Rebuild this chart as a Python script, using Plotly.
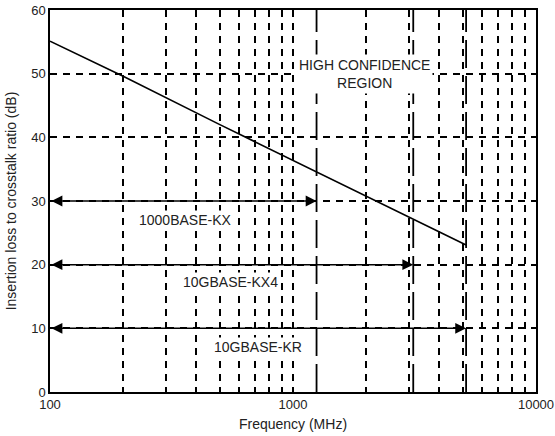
import numpy as np
import plotly.graph_objects as go

# ---- data ----
freq_mhz = [100, 200, 500, 1000, 2000, 3125, 5156.25]
icr_db = [55.1, 49.6, 42.0, 36.4, 30.7, 27.1, 23.1]

phy_names = ["1000BASE-KX", "10GBASE-KX4", "10GBASE-KR"]
phy_fmax = [1250, 3125, 5156.25]
phy_level = [30, 20, 10]
phy_label_x = [360, 552, 720]
phy_label_y = [27.0, 17.2, 7.0]

region_text = "HIGH CONFIDENCE<br>REGION"
region_x = 1960
region_y = 50

x_tickvals = [100, 200, 300, 400, 500, 600, 700, 800, 900,
              1000, 2000, 3000, 4000, 5000, 6000, 7000, 8000, 9000, 10000]
x_ticktext = ["100", "", "", "", "", "", "", "", "",
              "1000", "", "", "", "", "", "", "", "", "10000"]
y_tickvals = [0, 10, 20, 30, 40, 50, 60]

FONT = "Liberation Sans, Arial, sans-serif"
TXT = "#222222"

fig = go.Figure()

# long-dash vertical markers at the max frequencies
for fmax in phy_fmax:
    fig.add_trace(go.Scatter(
        x=[fmax, fmax], y=[0, 60], mode="lines",
        line=dict(color="black", width=1.8, dash="28px,8px"),
        hoverinfo="skip", showlegend=False))

# ICR limit curve
fig.add_trace(go.Scatter(
    x=freq_mhz, y=icr_db, mode="lines",
    line=dict(color="black", width=1.6),
    showlegend=False))

annotations = []
for name, fmax, lvl, lx, ly in zip(phy_names, phy_fmax, phy_level, phy_label_x, phy_label_y):
    annotations.append(dict(
        x=np.log10(fmax), y=lvl, ax=np.log10(100), ay=lvl,
        xref="x", yref="y", axref="x", ayref="y",
        showarrow=True, arrowhead=2, arrowside="end+start",
        arrowsize=1.45, arrowwidth=1.5, arrowcolor="black",
        standoff=0, startstandoff=0, text=""))
    annotations.append(dict(
        x=np.log10(lx), y=ly, xref="x", yref="y", text=name,
        showarrow=False, bgcolor="white", borderpad=1,
        font=dict(family=FONT, size=14, color=TXT)))

annotations.append(dict(
    x=np.log10(region_x), y=region_y, xref="x", yref="y", text=region_text,
    showarrow=False, bgcolor="white", borderpad=2,
    font=dict(family=FONT, size=14, color=TXT)))

fig.update_layout(
    width=555, height=436,
    margin=dict(l=50, r=19, t=10, b=44),
    paper_bgcolor="white", plot_bgcolor="white",
    annotations=annotations,
    font=dict(family=FONT, size=13, color=TXT),
    xaxis=dict(
        type="log", range=[2, 4], automargin=False,
        tickvals=x_tickvals, ticktext=x_ticktext, ticklabeloverflow="allow",
        showgrid=True, gridcolor="black", gridwidth=1.5, griddash="7px,6px",
        showline=True, linecolor="black", linewidth=1.5, mirror=True,
        ticks="", zeroline=False,
        tickfont=dict(family=FONT, size=13, color=TXT),
        title=dict(text="Frequency (MHz)", standoff=8,
                   font=dict(family=FONT, size=14, color=TXT)),
    ),
    yaxis=dict(
        range=[0, 60], tickvals=y_tickvals, automargin=False,
        ticklabeloverflow="allow",
        showgrid=True, gridcolor="black", gridwidth=1.5, griddash="7px,6px",
        showline=True, linecolor="black", linewidth=1.5, mirror=True,
        ticks="", zeroline=False,
        tickfont=dict(family=FONT, size=13, color=TXT),
        title=dict(text="Insertion loss to crosstalk ratio (dB)", standoff=11,
                   font=dict(family=FONT, size=14, color=TXT)),
    ),
)

fig.write_html(
    "out.html",
    config={"displayModeBar": False},
    post_script="document.body.style.margin='0';document.body.style.overflow='hidden';",
)
